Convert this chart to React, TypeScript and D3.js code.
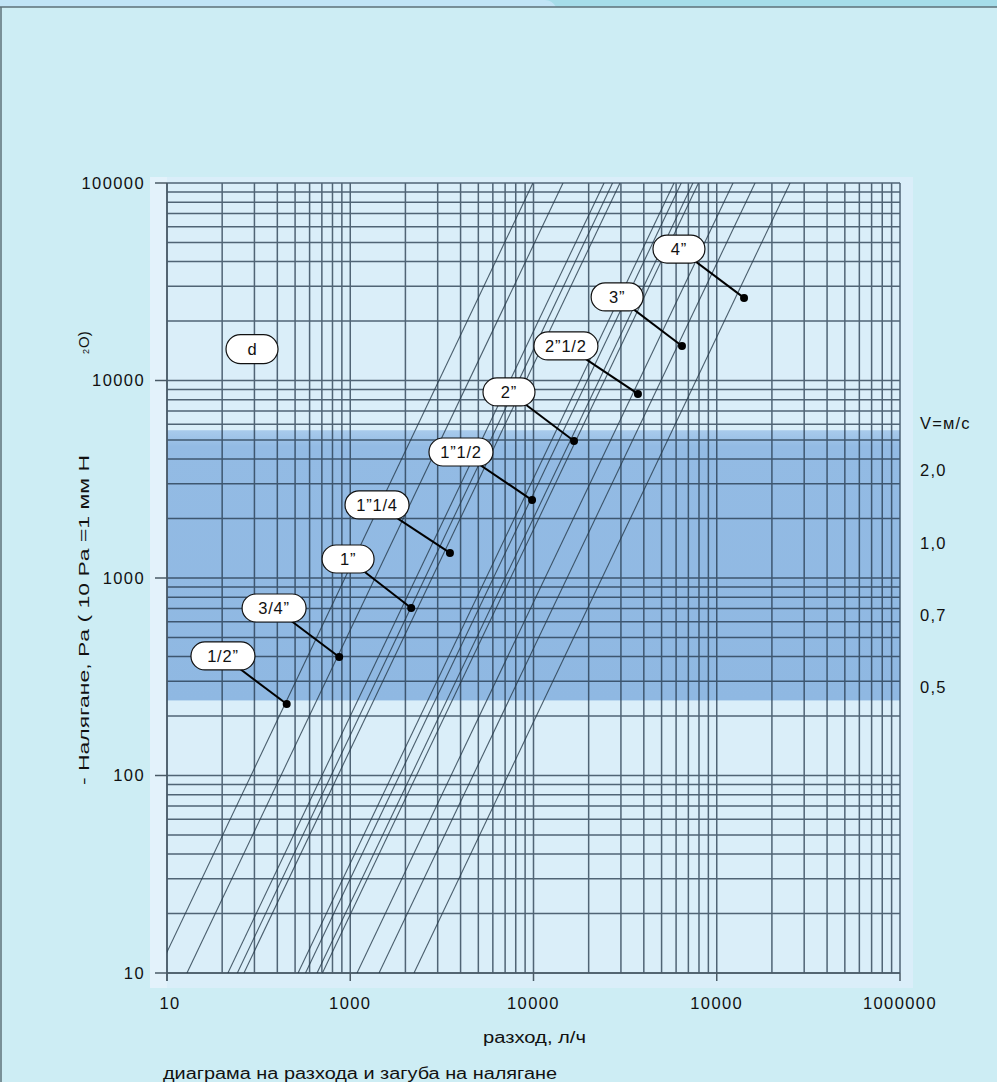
import React from "react";
import * as d3 from "d3";

const W = 997;
const H = 1082;

const xDomain = [10, 100000];
const yDomain = [10, 100000];
const xTickValues = [10, 100, 1000, 10000, 100000];
const xTickLabels = ["10", "1000", "10000", "10000", "1000000"];
const yTickValues = [10, 100, 1000, 10000, 100000];
const yTickLabels = ["10", "100", "1000", "10000", "100000"];

// velocity scale labels on the right (pressure level where each label sits)
const velocityTitle = "V=м/с";
const velocityTitleLevel = 6100;
const velocityLabels = ["2,0", "1,0", "0,7", "0,5"];
const velocityLevels = [3520, 1500, 650, 281];

// recommended band (pressure range)
const bandRange = [240, 5600];

// diagonal pipe lines: [flow at start, pressure at start, flow at end, pressure at end]
const pipeLines: [number, number, number, number][] = [
  [8.82, 10, 993, 100000],
  [12.85, 10, 1449, 100000],
  [21.5, 10, 2427, 100000],
  [24.2, 10, 2700, 100000],
  [26.3, 10, 2965, 100000],
  [51.9, 10, 5848, 100000],
  [57.0, 10, 6400, 100000],
  [65.9, 10, 7413, 100000],
  [70.5, 10, 7950, 100000],
  [108.9, 10, 12270, 100000],
  [143.6, 10, 16180, 100000],
  [222.8, 10, 25120, 100000],
];

// pipe size labels
const pipeNames = ["1/2”", "3/4”", "1”", "1”1/4", "1”1/2", "2”", "2”1/2", "3”", "4”"];
const markerFlow = [45, 87, 215, 350, 982, 1664, 3715, 6460, 14090];
const markerPressure = [230, 398, 705, 1340, 2480, 4940, 8550, 14960, 26200];
const labelFlow = [20.2, 38.4, 97.3, 140, 402, 735, 1503, 2860, 6220];
const labelPressure = [403, 705, 1248, 2344, 4345, 8750, 14960, 26500, 46300];

const dLabel = "d";
const dFlow = 29.1;
const dPressure = 14420;

const xTitle = "разход, л/ч";
const yTitleMain = "- Налягане, Pa ( 10 Pa =1 мм H";
const yTitleSub = "2";
const yTitleEnd = "O)";
const chartTitle = "диаграма на разхода и загуба на налягане";

const FONT = "'Liberation Sans', Arial, Helvetica, sans-serif";

export default function App() {
  const x = d3.scaleLog().domain(xDomain).range([167, 900]);
  const y = d3.scaleLog().domain(yDomain).range([973, 183]);
  const xGrid = x.ticks();
  const yGrid = y.ticks();
  const gridColor = "#22364a";

  return (
    <div>
      <style>{"body{margin:0;}"}</style>
      <svg width={W} height={H} style={{ display: "block" }} fontFamily={FONT}>
        <defs>
          <clipPath id="plotClip">
            <rect x={x(10)} y={y(100000)} width={x(100000) - x(10)} height={y(10) - y(100000)} />
          </clipPath>
          <linearGradient id="bandGrad" x1="0" y1="0" x2="0" y2="1">
            <stop offset="0" stopColor="#a9cbec" />
            <stop offset="0.06" stopColor="#93bbe4" />
            <stop offset="1" stopColor="#8fb8e2" />
          </linearGradient>
        </defs>
        {/* page background */}
        <rect x={0} y={0} width={W} height={H} fill="#cdedf4" />
        <rect x={0} y={0} width={W} height={7} fill="#a6dde9" />
        <path d="M0,0 H545 Q552,0 556,7 H0 Z" fill="#c1e4f6" />
        <line x1={0} y1={7} x2={W} y2={7} stroke="#5d7078" strokeWidth={1.5} />
        <line x1={1} y1={7} x2={1} y2={H} stroke="#5d7078" strokeWidth={1.5} />

        {/* plot panel */}
        <rect x={150} y={177} width={763} height={811} fill="#daeef9" />
        <rect x={150} y={177} width={17} height={811} fill="#e3f2fb" />
        <rect
          x={x(10)}
          y={y(bandRange[1])}
          width={x(100000) - x(10)}
          height={y(bandRange[0]) - y(bandRange[1])}
          fill="url(#bandGrad)"
        />

        {/* grid */}
        <g stroke={gridColor} strokeWidth={1.5} opacity={0.75}>
          {xGrid.map((v, i) => (
            <line key={"gx" + i} x1={x(v)} x2={x(v)} y1={y(100000)} y2={y(10)} />
          ))}
          {yGrid.map((v, i) => (
            <line key={"gy" + i} x1={x(10)} x2={x(100000)} y1={y(v)} y2={y(v)} />
          ))}
        </g>
        {/* axis ticks */}
        <g stroke="#4a5a66" strokeWidth={1.5}>
          {xTickValues.map((v, i) => (
            <line key={"xt" + i} x1={x(v)} x2={x(v)} y1={y(10)} y2={y(10) + 8} />
          ))}
          {yTickValues.map((v, i) => (
            <line key={"yt" + i} x1={x(10) - 12} x2={x(10)} y1={y(v)} y2={y(v)} />
          ))}
          <line x1={x(10)} x2={x(10)} y1={y(100000)} y2={y(10) + 8} />
          <line x1={x(10)} x2={x(100000)} y1={y(10)} y2={y(10)} />
        </g>

        {/* pipe lines */}
        <g clipPath="url(#plotClip)" stroke="#263a4a" strokeWidth={1.1} opacity={0.8} fill="none">
          {pipeLines.map((p, i) => (
            <line key={"pl" + i} x1={x(p[0])} y1={y(p[1])} x2={x(p[2])} y2={y(p[3])} />
          ))}
        </g>

        {/* tick labels */}
        <g fontSize={16.5} fill="#111" letterSpacing={1.4}>
          {yTickValues.map((v, i) => (
            <text key={"yl" + i} x={145} y={y(v)} dy="0.36em" textAnchor="end">
              {yTickLabels[i]}
            </text>
          ))}
          {xTickValues.map((v, i) => (
            <text key={"xl" + i} x={x(v) + (i === 0 ? 3 : 0)} y={1003} dy="0.36em" textAnchor="middle">
              {xTickLabels[i]}
            </text>
          ))}
        </g>

        {/* velocity labels */}
        <g fontSize={16.5} fill="#111" letterSpacing={1.2}>
          <text x={920} y={y(velocityTitleLevel)} dy="0.36em">
            {velocityTitle}
          </text>
          {velocityLabels.map((t, i) => (
            <text key={"vl" + i} x={920} y={y(velocityLevels[i])} dy="0.36em">
              {t}
            </text>
          ))}
        </g>

        {/* leaders + markers + labels */}
        {pipeNames.map((name, i) => {
          const lx = x(labelFlow[i]);
          const ly = y(labelPressure[i]);
          const mx = x(markerFlow[i]);
          const my = y(markerPressure[i]);
          const w = name.length > 3 ? 64 : 52;
          return (
            <g key={"lab" + i}>
              <line x1={lx} y1={ly} x2={mx} y2={my} stroke="#000" strokeWidth={2} />
              <circle cx={mx} cy={my} r={4} fill="#000" />
              <rect x={lx - w / 2} y={ly - 14} width={w} height={28} rx={14} ry={14} fill="#fff" stroke="#111" strokeWidth={1.2} />
              <text x={lx} y={ly} dy="0.36em" textAnchor="middle" fontSize={16.5} fill="#111" letterSpacing={0.8}>
                {name}
              </text>
            </g>
          );
        })}
        <g>
          <rect x={x(dFlow) - 26} y={y(dPressure) - 14.5} width={52} height={29} rx={14.5} ry={14.5} fill="#fff" stroke="#111" strokeWidth={1.2} />
          <text x={x(dFlow)} y={y(dPressure)} dy="0.36em" textAnchor="middle" fontSize={16.5} fill="#111">
            {dLabel}
          </text>
        </g>

        {/* axis titles */}
        <text x={534.5} y={1037} dy="0.36em" textAnchor="middle" fontSize={16} fill="#111" textLength={103} lengthAdjust="spacingAndGlyphs">
          {xTitle}
        </text>
        <text x={163} y={1073} dy="0.36em" fontSize={16} fill="#111" textLength={394} lengthAdjust="spacingAndGlyphs">
          {chartTitle}
        </text>
        <g transform="translate(84,620) rotate(-90)" fill="#111">
          <text x={0} y={0} dy="0.36em" textAnchor="middle" fontSize={15} textLength={330} lengthAdjust="spacingAndGlyphs">
            {yTitleMain}
          </text>
          <text x={266} y={0} dy="0.6em" fontSize={9}>
            {yTitleSub}
          </text>
          <text x={272} y={0} dy="0.36em" fontSize={15}>
            {yTitleEnd}
          </text>
        </g>
      </svg>
    </div>
  );
}
